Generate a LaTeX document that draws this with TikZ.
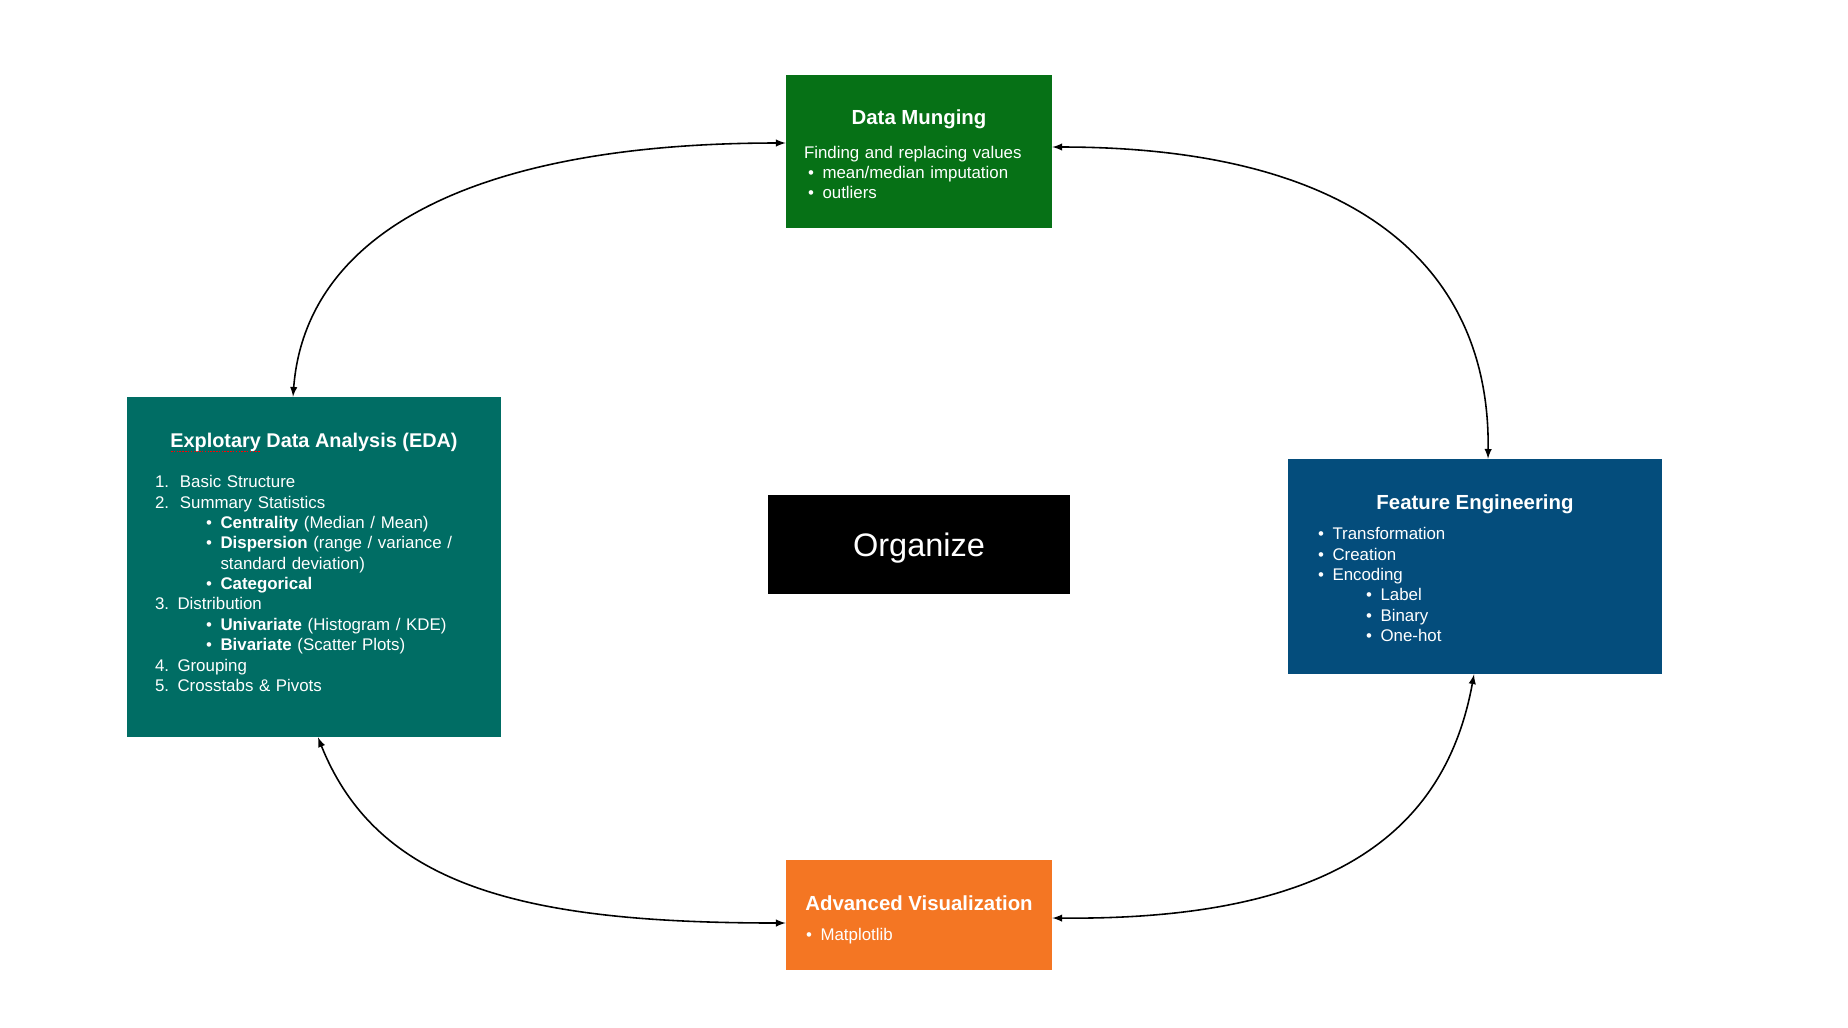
\documentclass[tikz,border=0pt]{standalone}
\usepackage{fontspec}
\setmainfont{Liberation Sans}
\usetikzlibrary{positioning}
\setlength{\parindent}{0pt}

\definecolor{mungegreen}{RGB}{6,113,22}
\definecolor{edateal}{RGB}{0,109,100}
\definecolor{featblue}{RGB}{4,77,124}
\definecolor{vizorange}{RGB}{244,118,35}

% title line of a stage box, with the gap below it
\newcommand{\stagetitle}[2]{{\fontsize{11.6}{13}\selectfont\bfseries\makebox[\linewidth]{#1}\par}\vspace{#2}}
% bullet line: optional indent, then bullet and text
\newcommand{\bul}[2][0pt]{\hspace*{#1}\makebox[0.29cm][l]{\textbullet}#2\par}
% red dotted spelling mark under a word
\newcommand{\spellmark}[1]{\setbox0\hbox{#1}\rlap{\raisebox{-2.4pt}{\textcolor{red}{\hbox to \wd0{\leaders\hbox to 1.6pt{\hss\rule{0.85pt}{0.85pt}\hss}\hfill}}}}#1}

\tikzset{
  stage/.style={rectangle, text=white, inner ysep=0pt, align=left,
    font=\fontsize{9.6}{11.6}\selectfont},
  cyclearrow/.style={latex-latex, line width=0.9pt},
}

\begin{document}
\begin{tikzpicture}
  \useasboundingbox (0,0) rectangle (36.96,-20.54);

  %the four stages round the centre
  \node[stage, fill=mungegreen, inner xsep=0.36cm, text width=4.6cm, minimum height=3.06cm]
    (munge) at (18.38,-3.03) {%
    \stagetitle{Data Munging}{7.5pt}%
    Finding and replacing values\par
    \bul[0.08cm]{mean/median imputation}%
    \bul[0.08cm]{outliers}\vspace{-3.4pt}};

  \node[stage, fill=edateal, inner xsep=0.56cm, text width=6.36cm, minimum height=6.8cm]
    (eda) at (6.28,-11.34) {%
    \stagetitle{\fontsize{11.3}{13}\selectfont\spellmark{Explotary} Data Analysis (EDA)}{11pt}%
    \makebox[0.5cm][l]{1.}Basic Structure\par
    \makebox[0.5cm][l]{2.}Summary Statistics\par
    \bul[1.02cm]{\textbf{Centrality} (Median / Mean)}%
    \bul[1.02cm]{\textbf{Dispersion} (range / variance /}%
    \hspace*{1.31cm}standard deviation)\par
    \bul[1.02cm]{\textbf{Categorical}}%
    3. Distribution\par
    \bul[1.02cm]{\textbf{Univariate} (Histogram / KDE)}%
    \bul[1.02cm]{\textbf{Bivariate} (Scatter Plots)}%
    4. Grouping\par
    5. Crosstabs \& Pivots\vspace{5pt}};

  \node[stage, fill=featblue, inner xsep=0.6cm, text width=6.28cm, minimum height=4.3cm]
    (feature) at (29.5,-11.33) {%
    \stagetitle{Feature Engineering}{5.5pt}%
    \bul{Transformation}%
    \bul{Creation}%
    \bul{Encoding}%
    \bul[0.96cm]{Label}%
    \bul[0.96cm]{Binary}%
    \bul[0.96cm]{One-hot}\vspace{-2pt}};

  \node[stage, fill=vizorange, inner xsep=0.4cm, text width=4.52cm, minimum height=2.2cm]
    (viz) at (18.38,-18.3) {%
    \stagetitle{Advanced Visualization}{5pt}%
    \bul{Matplotlib}\vspace{-5.5pt}};

  %centre label
  \node[fill=black, text=white, minimum width=6.04cm, minimum height=1.98cm, text depth=0pt,
    font=\fontsize{18.5}{22}\selectfont] (organize) at (18.38,-10.89) {Organize};

  %connectors
  \draw[cyclearrow] ([yshift=0.17cm]munge.west)
    .. controls +(-6.2,0) and +(0.25,3.3) .. ([xshift=-0.42cm]eda.north);
  \draw[cyclearrow] ([yshift=0.09cm]munge.east)
    .. controls +(6.4,0) and +(0.05,3.6) .. ([xshift=0.26cm]feature.north);
  \draw[cyclearrow] ([xshift=0.08cm]eda.south)
    .. controls +(1.2,-3.0) and +(-5.2,0) .. ([yshift=-0.16cm]viz.west);
  \draw[cyclearrow] ([xshift=-0.02cm]feature.south)
    .. controls +(-0.6,-3.3) and +(5.4,-0.05) .. ([yshift=-0.06cm]viz.east);
\end{tikzpicture}
\end{document}
